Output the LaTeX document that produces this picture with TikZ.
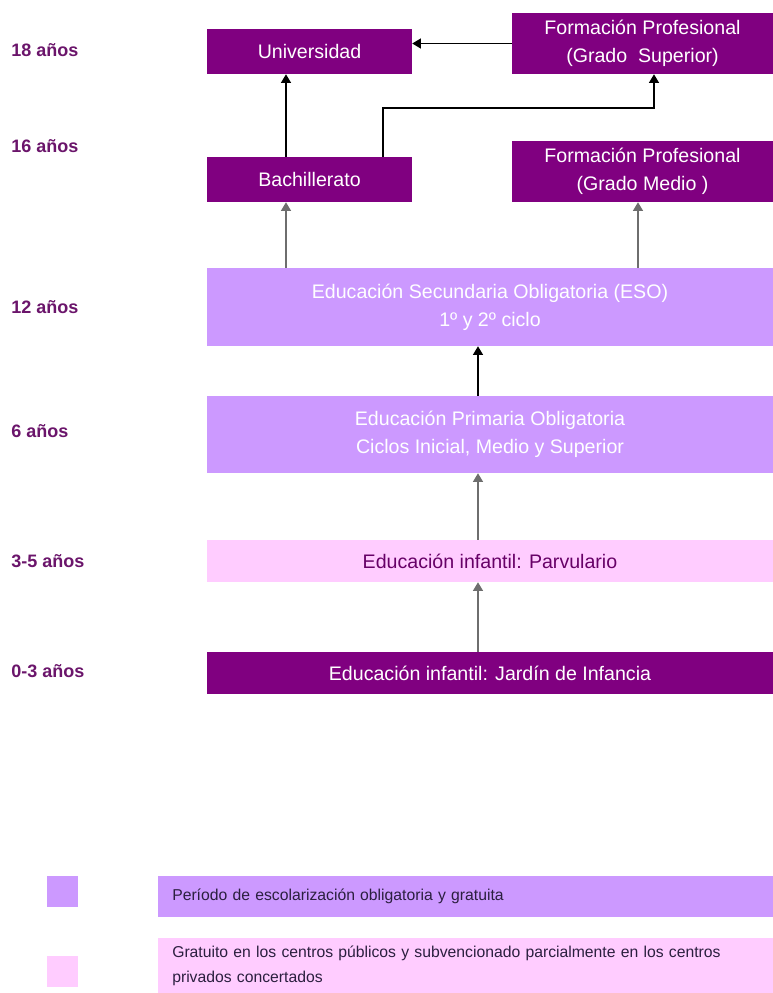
\documentclass[tikz,border=0pt]{standalone}
\usepackage{fontspec}
\setmainfont{Liberation Sans}
\usetikzlibrary{arrows.meta}

\definecolor{darkpurple}{HTML}{800080}
\definecolor{lightpurple}{HTML}{CC99FF}
\definecolor{lightpink}{HTML}{FFCCFF}
\definecolor{agecolor}{HTML}{6B156B}
\definecolor{keytext}{HTML}{2B1F3F}
\definecolor{linkgray}{HTML}{6E6E6E}

\tikzset{
  stage/.style={inner sep=0pt, align=center, font=\fontsize{14.7}{21}\selectfont},
  darkstage/.style={stage, fill=darkpurple, text=white},
  freestage/.style={stage, fill=lightpurple, text=white},
  paidstage/.style={stage, fill=lightpink, text=darkpurple!80!black},
  agelabel/.style={anchor=west, inner sep=0pt, text=agecolor, font=\fontsize{13.5}{15}\selectfont\bfseries},
  keybar/.style={anchor=west, inner xsep=14*0.75pt, inner ysep=0pt, align=left, text width=587*0.75pt, text=keytext, font=\fontsize{11.8}{18.75}\selectfont},
  link/.style={-{Triangle[length=6.5pt,width=7.5pt]}, line width=1pt, black},
  graylink/.style={link, linkgray}
}

\begin{document}
\begin{tikzpicture}[x=0.75pt,y=-0.75pt]

\useasboundingbox[fill=white] (0,0) rectangle (773,993);
%\draw[very thin,color=lightgray,step=50] (0,0) grid (773,993);

% ages
\node[agelabel] (a18) at (11,50) {18 años};
\node[agelabel] (a16) at (11,146) {16 años};
\node[agelabel] (a12) at (11,307) {12 años};
\node[agelabel] (a6) at (11,431) {6 años};
\node[agelabel] (a3) at (11,561) {3-5 años};
\node[agelabel] (a0) at (11,671) {0-3 años};

% stages
\node[darkstage, minimum width=205*0.75pt, minimum height=45*0.75pt] (uni) at (309.5,51.5) {Universidad};
\node[darkstage, minimum width=261*0.75pt, minimum height=61*0.75pt] (fpsup) at (642.5,43.5) {Formación Profesional\\(Grado\ \ Superior)};
\node[darkstage, minimum width=205*0.75pt, minimum height=45*0.75pt] (bach) at (309.5,179.5) {Bachillerato};
\node[darkstage, minimum width=261*0.75pt, minimum height=61*0.75pt] (fpmed) at (642.5,171.5) {Formación Profesional\\(Grado Medio\ )};
\node[freestage, minimum width=566*0.75pt, minimum height=78*0.75pt] (eso) at (490,307) {Educación Secundaria Obligatoria (ESO)\\1º y 2º ciclo};
\node[freestage, minimum width=566*0.75pt, minimum height=77*0.75pt] (prim) at (490,434.5) {Educación Primaria Obligatoria\\Ciclos Inicial, Medio y Superior};
\node[paidstage, minimum width=566*0.75pt, minimum height=42*0.75pt] (parv) at (490,561) {Educación infantil: Parvulario};
\node[darkstage, minimum width=566*0.75pt, minimum height=42*0.75pt] (jard) at (490,673) {Educación infantil: Jardín de Infancia};

% links
\coordinate (colA) at (286,0);
\coordinate (colB) at (383,0);
\coordinate (colC) at (654,0);
\coordinate (colD) at (638,0);
\coordinate (colE) at (478,0);
\coordinate (rowE) at (0,108);

\draw[link] (bach.north -| colA) -- (uni.south -| colA);
\draw[link] (bach.north -| colB) -- (colB |- rowE) -| (fpsup.south -| colC);
\draw[link] (fpsup.west) -- (uni.east |- fpsup.west);
\draw[graylink] (eso.north -| colA) -- (bach.south -| colA);
\draw[graylink] (eso.north -| colD) -- (fpmed.south -| colD);
\draw[link] (prim.north -| colE) -- (eso.south -| colE);
\draw[graylink] (parv.north -| colE) -- (prim.south -| colE);
\draw[graylink] (jard.north -| colE) -- (parv.south -| colE);

% key
\node[fill=lightpurple, minimum size=31*0.75pt, inner sep=0pt] (keyfree) at (62.5,891) {};
\node[fill=lightpink, minimum size=31*0.75pt, inner sep=0pt] (keypaid) at (62.5,971) {};
\node[keybar, fill=lightpurple, minimum height=41*0.75pt] (barfree) at (158,896.5) {Período de escolarización obligatoria y gratuita};
\node[keybar, fill=lightpink, minimum height=55*0.75pt] (barpaid) at (158,965.5) {Gratuito en los centros públicos y subvencionado parcialmente en los centros\\privados concertados};

\end{tikzpicture}
\end{document}
